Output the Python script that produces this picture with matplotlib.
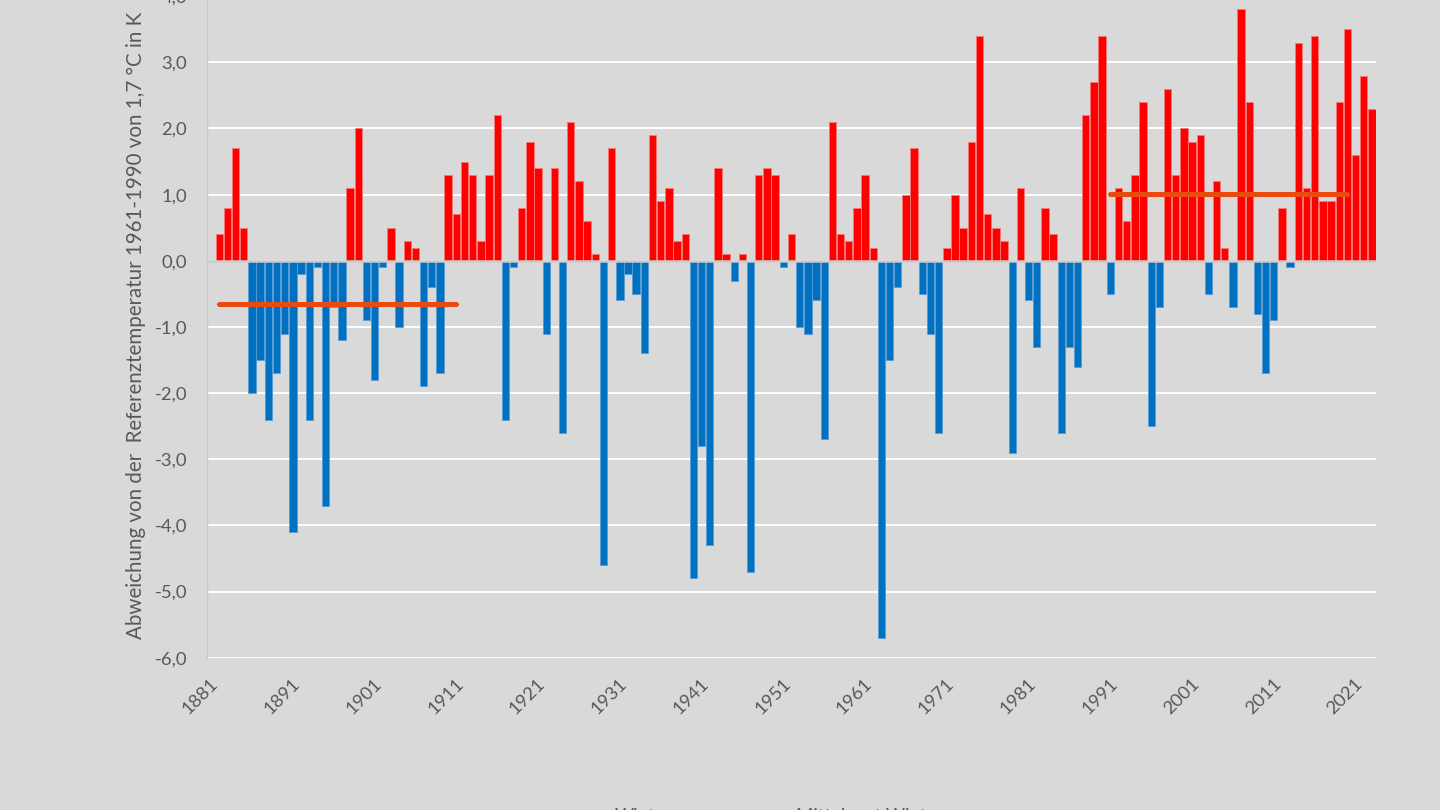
import numpy as np
import matplotlib
matplotlib.use("Agg")
import matplotlib.pyplot as plt
from matplotlib.transforms import ScaledTranslation

plt.rcParams['font.family'] = ['Lato', 'DejaVu Sans']

# ---- data -------------------------------------------------------------
years = np.arange(1881, 2024)
anomaly = [
    np.nan,
    0.4, 0.8, 1.7, 0.5, -2.0, -1.5, -2.4, -1.7, -1.1, -4.1,      # 1882-1891
    -0.2, -2.4, -0.1, -3.7, -0.7, -1.2, 1.1, 2.0, -0.9, -1.8,    # 1892-1901
    -0.1, 0.5, -1.0, 0.3, 0.2, -1.9, -0.4, -1.7, 1.3, 0.7,       # 1902-1911
    1.5, 1.3, 0.3, 1.3, 2.2, -2.4, -0.1, 0.8, 1.8, 1.4,          # 1912-1921
    -1.1, 1.4, -2.6, 2.1, 1.2, 0.6, 0.1, -4.6, 1.7, -0.6,        # 1922-1931
    -0.2, -0.5, -1.4, 1.9, 0.9, 1.1, 0.3, 0.4, -4.8, -2.8,       # 1932-1941
    -4.3, 1.4, 0.1, -0.3, 0.1, -4.7, 1.3, 1.4, 1.3, -0.1,        # 1942-1951
    0.4, -1.0, -1.1, -0.6, -2.7, 2.1, 0.4, 0.3, 0.8, 1.3,        # 1952-1961
    0.2, -5.7, -1.5, -0.4, 1.0, 1.7, -0.5, -1.1, -2.6, 0.2,      # 1962-1971
    1.0, 0.5, 1.8, 3.4, 0.7, 0.5, 0.3, -2.9, 1.1, -0.6,          # 1972-1981
    -1.3, 0.8, 0.4, -2.6, -1.3, -1.6, 2.2, 2.7, 3.4, -0.5,       # 1982-1991
    1.1, 0.6, 1.3, 2.4, -2.5, -0.7, 2.6, 1.3, 2.0, 1.8,          # 1992-2001
    1.9, -0.5, 1.2, 0.2, -0.7, 3.8, 2.4, -0.8, -1.7, -0.9,       # 2002-2011
    0.8, -0.1, 3.3, 1.1, 3.4, 0.9, 0.9, 2.4, 3.5, 1.6,           # 2012-2021
    2.8, 2.3,                                                    # 2022-2023
]
first_period = (1882, 1911)
last_period = (1991, 2020)
tick_years = list(range(1881, 2022, 10))
y_ticks = [-6, -5, -4, -3, -2, -1, 0, 1, 2, 3, 4]
ylabel = "Abweichung von der  Referenztemperatur 1961-1990 von 1,7 °C in K"
legend_labels = ["Winter", "Mittel erst Winter"]

# ---- styling ----------------------------------------------------------
BG = '#D9D9D9'
RED = '#FF0000'
BLUE = '#0070C0'
ORANGE = '#E84A0F'
TXT = '#595959'
FS = 13.3

fig = plt.figure(figsize=(14.4, 8.1), dpi=100, facecolor=BG)
ax = fig.add_axes([207 / 1440, 1 - 657.7 / 810, 1169 / 1440, 661.5 / 810])
ax.set_facecolor(BG)

vals = np.array(anomaly, dtype=float)
pos = vals >= 0
ax.bar(years[pos], vals[pos], width=0.9, color=RED, edgecolor='#F57A7A',
       linewidth=0.6, zorder=2)
neg = vals < 0
ax.bar(years[neg], vals[neg], width=0.9, color=BLUE, edgecolor='#5B9BD5',
       linewidth=0.6, zorder=2)

for a, b in (first_period, last_period):
    sel = (years >= a) & (years <= b)
    m = np.nanmean(vals[sel])
    ax.plot([a, b], [m, m], color=ORANGE, lw=3.6, solid_capstyle='round',
            zorder=4)

ax.axhline(0, color='#CBCBCB', lw=1.8, zorder=3)

ax.set_xlim(1880.5, 2023.5)
ax.set_ylim(-6, 4)
ax.set_yticks(y_ticks)
ax.set_yticklabels([f"{v:.1f}".replace('.', ',') for v in y_ticks])
ax.yaxis.grid(True, color='white', lw=1.4)
ax.set_axisbelow(True)

ax.set_xticks(tick_years)
ax.set_xticklabels([str(y) for y in tick_years])
ax.tick_params(axis='y', length=0, pad=14.4, labelsize=FS, labelcolor=TXT)
ax.tick_params(axis='x', length=0, pad=13.0, labelsize=FS, labelcolor=TXT)
off = ScaledTranslation(-1 / 100, 0, fig.dpi_scale_trans)
for lab in ax.get_xticklabels():
    lab.set_rotation(45)
    lab.set_ha('right')
    lab.set_va('top')
    lab.set_rotation_mode('anchor')
    lab.set_transform(lab.get_transform() + off)

for s in ('top', 'right', 'bottom'):
    ax.spines[s].set_visible(False)
ax.spines['left'].set_color('#C8C8C8')
ax.spines['left'].set_linewidth(1.0)

fig.text(136 / 1440, 1 - 325 / 810, ylabel, rotation=90, ha='center',
         va='center', fontsize=14.8, color=TXT)

fig.text(615 / 1440, 1 - 821 / 810, legend_labels[0], ha='left',
         va='baseline', fontsize=FS, color=TXT)
fig.text(796 / 1440, 1 - 821 / 810, legend_labels[1], ha='left',
         va='baseline', fontsize=FS, color=TXT)

fig.savefig('out.png', dpi=100, facecolor=BG)
